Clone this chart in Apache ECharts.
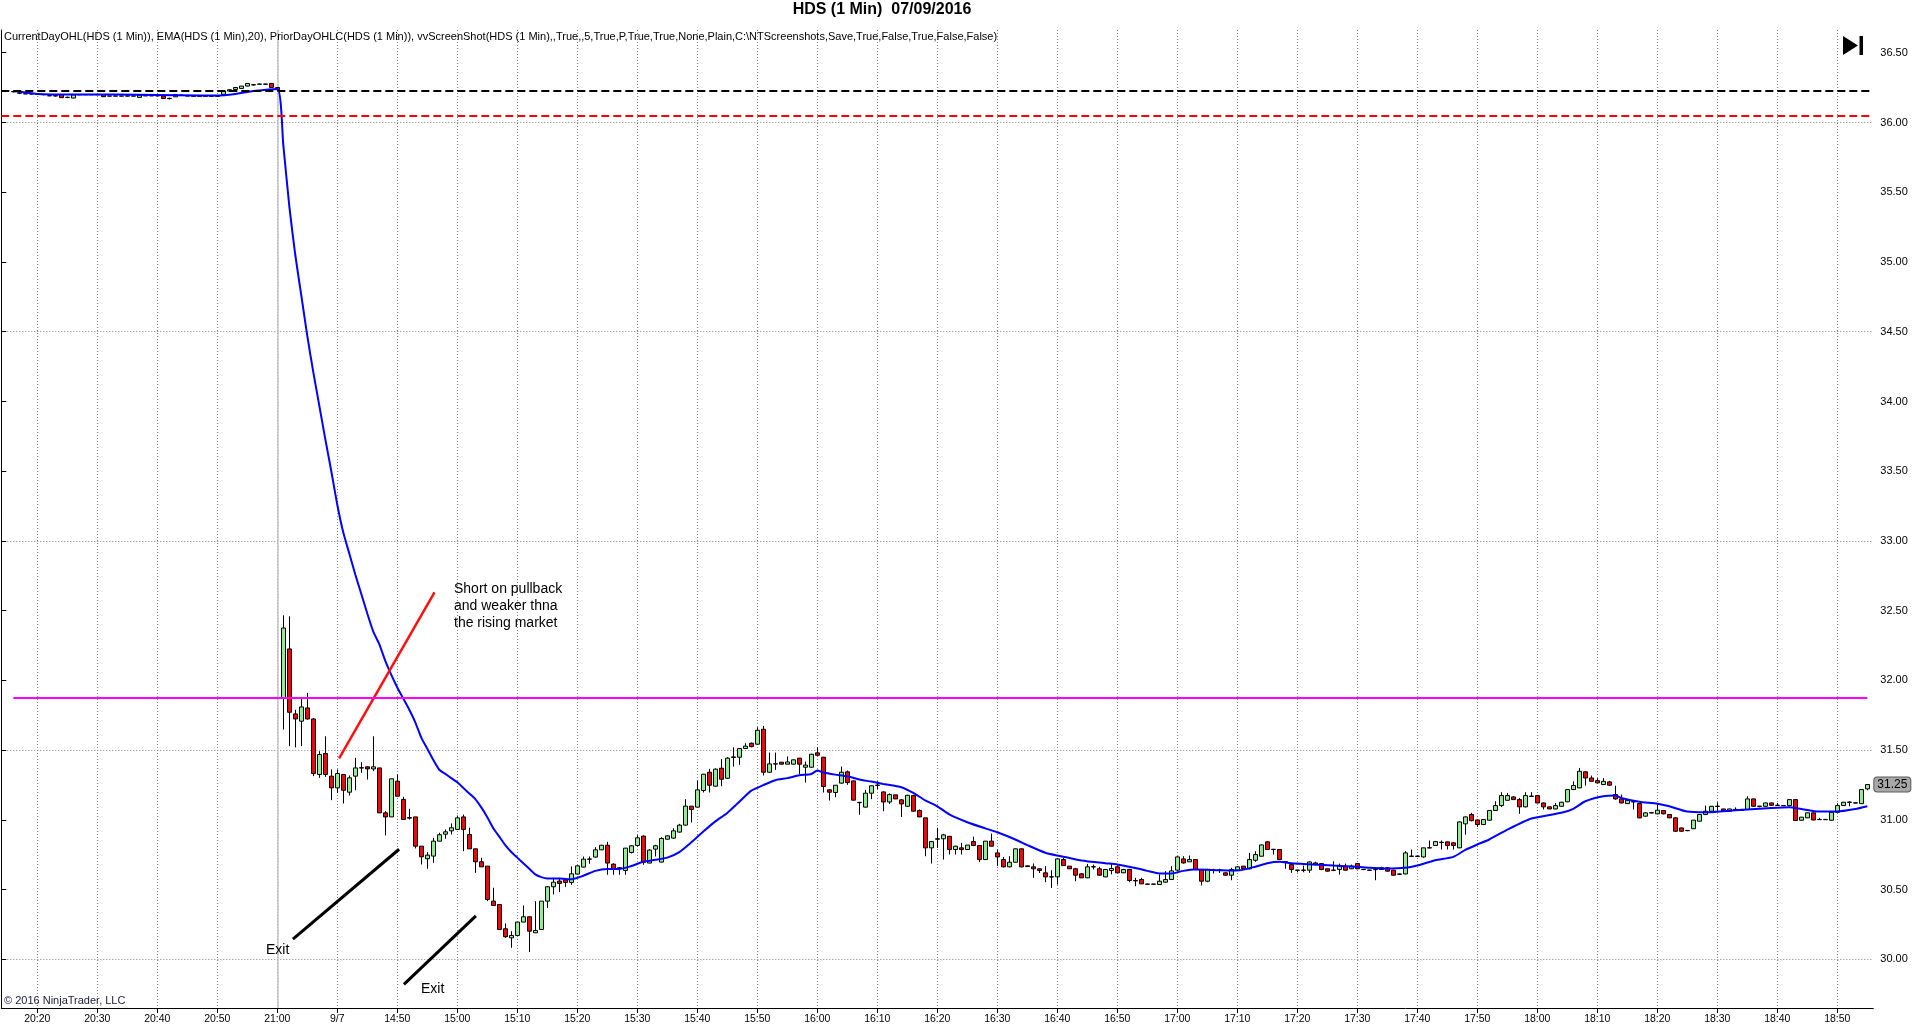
<!DOCTYPE html>
<html>
<head>
<meta charset="utf-8">
<title>HDS (1 Min) 07/09/2016</title>
<script src="https://cdn.jsdelivr.net/npm/echarts@6/dist/echarts.min.js"></script>
<style>
  html, body { margin: 0; padding: 0; background: #fff; }
  #chart { width: 1920px; height: 1034px; }
</style>
</head>
<body>
<div id="chart"></div>
<script>
// sessions on the time axis (one bar per minute), last category is an empty slot
var axisSessions = [['20:14', '21:00'], ['14:31', '18:56']];
var preStart = '20:16', preEnd = '21:00';
var dayStart = '14:31', dayEnd = '18:55';

// after-hours bars 20:16 .. 21:00  [open, close, low, high]
var preBars = [
  [36.222, 36.220, 36.215, 36.224], [36.212, 36.210, 36.203, 36.218], [36.206, 36.205, 36.204, 36.207],
  [36.206, 36.204, 36.199, 36.210], [36.205, 36.204, 36.203, 36.206], [36.201, 36.199, 36.195, 36.205],
  [36.192, 36.191, 36.190, 36.193], [36.192, 36.190, 36.186, 36.196], [36.200, 36.178, 36.177, 36.201],
  [36.181, 36.179, 36.174, 36.185], [36.175, 36.198, 36.174, 36.199], [36.200, 36.199, 36.197, 36.201],
  [36.200, 36.199, 36.197, 36.201], [36.200, 36.199, 36.197, 36.201], [36.200, 36.199, 36.197, 36.201],
  [36.200, 36.185, 36.184, 36.201], [36.190, 36.189, 36.188, 36.191], [36.190, 36.189, 36.188, 36.191],
  [36.190, 36.189, 36.188, 36.191], [36.191, 36.189, 36.185, 36.195], [36.190, 36.189, 36.188, 36.191],
  [36.180, 36.196, 36.179, 36.197], [36.192, 36.191, 36.190, 36.193], [36.192, 36.191, 36.190, 36.193],
  [36.192, 36.191, 36.190, 36.193], [36.190, 36.172, 36.171, 36.191], [36.173, 36.171, 36.165, 36.178],
  [36.184, 36.200, 36.183, 36.201], [36.196, 36.195, 36.194, 36.197], [36.191, 36.190, 36.189, 36.192],
  [36.190, 36.188, 36.184, 36.194], [36.190, 36.188, 36.184, 36.194], [36.190, 36.188, 36.184, 36.194],
  [36.190, 36.188, 36.184, 36.194], [36.190, 36.188, 36.184, 36.194], [36.201, 36.225, 36.190, 36.226],
  [36.225, 36.235, 36.224, 36.236], [36.237, 36.251, 36.236, 36.252], [36.244, 36.261, 36.243, 36.262],
  [36.261, 36.280, 36.260, 36.281], [36.271, 36.269, 36.265, 36.276], [36.276, 36.274, 36.273, 36.277],
  [36.276, 36.274, 36.273, 36.277], [36.280, 36.251, 36.250, 36.281], [36.251, 36.235, 36.234, 36.252]
];

// regular session bars 14:31 .. 18:55  [open, close, low, high]
var dayBars = [
  [31.875, 32.376, 31.648, 32.467], [32.226, 31.772, 31.529, 32.460], [31.760, 31.724, 31.520, 31.790],
  [31.708, 31.810, 31.530, 31.868], [31.803, 31.724, 31.720, 31.911], [31.724, 31.333, 31.314, 31.730],
  [31.326, 31.469, 31.302, 31.493], [31.476, 31.326, 31.309, 31.600], [31.314, 31.230, 31.142, 31.362],
  [31.230, 31.333, 31.194, 31.362], [31.326, 31.213, 31.118, 31.330], [31.199, 31.302, 31.175, 31.319],
  [31.314, 31.373, 31.213, 31.445], [31.375, 31.372, 31.338, 31.414], [31.381, 31.366, 31.290, 31.385],
  [31.366, 31.381, 31.350, 31.600], [31.373, 31.051, 31.051, 31.373], [31.051, 31.022, 30.889, 31.063],
  [31.022, 31.295, 31.022, 31.295], [31.278, 31.170, 31.170, 31.326], [31.147, 31.003, 31.003, 31.166],
  [31.017, 31.013, 31.003, 31.080], [31.022, 30.812, 30.796, 31.022], [30.812, 30.736, 30.681, 30.812],
  [30.722, 30.748, 30.650, 30.769], [30.741, 30.848, 30.693, 30.872], [30.848, 30.894, 30.848, 30.908],
  [30.898, 30.915, 30.865, 30.932], [30.922, 30.944, 30.896, 30.975], [30.932, 31.015, 30.932, 31.032],
  [31.022, 30.932, 30.776, 31.039], [30.896, 30.793, 30.793, 30.944], [30.793, 30.700, 30.621, 30.793],
  [30.700, 30.664, 30.664, 30.729], [30.669, 30.430, 30.418, 30.669], [30.418, 30.387, 30.387, 30.514],
  [30.394, 30.215, 30.215, 30.394], [30.220, 30.163, 30.155, 30.258], [30.155, 30.172, 30.084, 30.203],
  [30.172, 30.268, 30.170, 30.268], [30.268, 30.306, 30.268, 30.387], [30.306, 30.203, 30.053, 30.306],
  [30.191, 30.208, 30.190, 30.418], [30.215, 30.418, 30.215, 30.418], [30.418, 30.521, 30.370, 30.526],
  [30.521, 30.554, 30.466, 30.585], [30.562, 30.545, 30.483, 30.585], [30.571, 30.552, 30.520, 30.575],
  [30.552, 30.614, 30.535, 30.667], [30.612, 30.671, 30.610, 30.675], [30.662, 30.719, 30.660, 30.738],
  [30.720, 30.719, 30.686, 30.738], [30.734, 30.786, 30.730, 30.805], [30.786, 30.819, 30.786, 30.820],
  [30.819, 30.691, 30.607, 30.843], [30.683, 30.652, 30.607, 30.690], [30.657, 30.655, 30.607, 30.662],
  [30.638, 30.798, 30.607, 30.800], [30.767, 30.815, 30.760, 30.820], [30.817, 30.872, 30.810, 30.891],
  [30.884, 30.698, 30.679, 30.890], [30.691, 30.784, 30.690, 30.790], [30.791, 30.815, 30.738, 30.822],
  [30.698, 30.867, 30.695, 30.877], [30.862, 30.886, 30.860, 30.890], [30.870, 30.922, 30.865, 30.941],
  [30.913, 30.963, 30.910, 30.972], [30.963, 31.099, 30.960, 31.149], [31.099, 31.075, 30.982, 31.100],
  [31.092, 31.216, 31.090, 31.283], [31.211, 31.328, 31.197, 31.330], [31.342, 31.249, 31.197, 31.366],
  [31.242, 31.364, 31.240, 31.370], [31.371, 31.292, 31.242, 31.436], [31.299, 31.443, 31.295, 31.450],
  [31.452, 31.448, 31.383, 31.521], [31.450, 31.512, 31.395, 31.515], [31.512, 31.529, 31.510, 31.550],
  [31.550, 31.526, 31.520, 31.555], [31.543, 31.643, 31.540, 31.665], [31.650, 31.342, 31.319, 31.674],
  [31.342, 31.402, 31.340, 31.483], [31.403, 31.401, 31.359, 31.483], [31.414, 31.400, 31.398, 31.416],
  [31.400, 31.416, 31.398, 31.455], [31.400, 31.431, 31.398, 31.433], [31.443, 31.400, 31.330, 31.445],
  [31.378, 31.393, 31.268, 31.419], [31.378, 31.471, 31.375, 31.475], [31.481, 31.464, 31.460, 31.521],
  [31.450, 31.240, 31.197, 31.452], [31.216, 31.199, 31.139, 31.220], [31.197, 31.249, 31.163, 31.250],
  [31.264, 31.342, 31.260, 31.383], [31.345, 31.268, 31.252, 31.354], [31.280, 31.142, 31.140, 31.283],
  [31.126, 31.124, 31.037, 31.130], [31.092, 31.192, 31.090, 31.216], [31.192, 31.245, 31.149, 31.247],
  [31.250, 31.248, 31.220, 31.278], [31.201, 31.129, 31.063, 31.205], [31.129, 31.182, 31.115, 31.190],
  [31.180, 31.151, 31.150, 31.180], [31.144, 31.115, 31.022, 31.151], [31.098, 31.177, 31.095, 31.180],
  [31.175, 31.063, 31.060, 31.180], [31.068, 31.022, 31.020, 31.075], [31.015, 30.800, 30.740, 31.015],
  [30.800, 30.845, 30.688, 30.850], [30.865, 30.862, 30.800, 30.943], [30.865, 30.893, 30.716, 30.900],
  [30.883, 30.788, 30.752, 30.885], [30.788, 30.812, 30.752, 30.815], [30.800, 30.788, 30.752, 30.836],
  [30.788, 30.820, 30.785, 30.820], [30.845, 30.817, 30.812, 30.880], [30.817, 30.716, 30.698, 30.820],
  [30.716, 30.848, 30.714, 30.850], [30.848, 30.812, 30.810, 30.902], [30.764, 30.735, 30.669, 30.788],
  [30.716, 30.664, 30.660, 30.735], [30.664, 30.697, 30.660, 30.740], [30.697, 30.793, 30.695, 30.795],
  [30.793, 30.664, 30.660, 30.795], [30.671, 30.666, 30.665, 30.672], [30.664, 30.650, 30.585, 30.688],
  [30.650, 30.638, 30.620, 30.652], [30.621, 30.592, 30.554, 30.669], [30.593, 30.591, 30.513, 30.640],
  [30.592, 30.721, 30.537, 30.725], [30.716, 30.673, 30.670, 30.728], [30.669, 30.650, 30.648, 30.670],
  [30.650, 30.604, 30.561, 30.657], [30.614, 30.585, 30.584, 30.620], [30.585, 30.664, 30.583, 30.685],
  [30.665, 30.663, 30.645, 30.680], [30.650, 30.604, 30.600, 30.664], [30.592, 30.645, 30.590, 30.647],
  [30.638, 30.652, 30.610, 30.685], [30.664, 30.621, 30.620, 30.674], [30.621, 30.645, 30.620, 30.650],
  [30.645, 30.566, 30.554, 30.650], [30.566, 30.563, 30.525, 30.585], [30.573, 30.542, 30.540, 30.585],
  [30.541, 30.539, 30.538, 30.541], [30.541, 30.539, 30.538, 30.541], [30.537, 30.561, 30.535, 30.609],
  [30.554, 30.573, 30.550, 30.633], [30.573, 30.635, 30.570, 30.669], [30.640, 30.735, 30.630, 30.740],
  [30.721, 30.692, 30.687, 30.740], [30.700, 30.716, 30.700, 30.745], [30.716, 30.645, 30.640, 30.716],
  [30.645, 30.561, 30.530, 30.645], [30.561, 30.645, 30.554, 30.650], [30.640, 30.639, 30.616, 30.650],
  [30.641, 30.639, 30.620, 30.650], [30.621, 30.604, 30.600, 30.625], [30.604, 30.645, 30.568, 30.657],
  [30.640, 30.664, 30.635, 30.669], [30.669, 30.650, 30.645, 30.670], [30.650, 30.716, 30.645, 30.764],
  [30.711, 30.752, 30.700, 30.776], [30.740, 30.821, 30.738, 30.824], [30.843, 30.788, 30.786, 30.848],
  [30.790, 30.788, 30.752, 30.790], [30.788, 30.716, 30.714, 30.790], [30.701, 30.699, 30.650, 30.702],
  [30.680, 30.645, 30.621, 30.682], [30.641, 30.639, 30.625, 30.642], [30.641, 30.639, 30.625, 30.673],
  [30.640, 30.699, 30.621, 30.704], [30.692, 30.680, 30.675, 30.700], [30.687, 30.645, 30.640, 30.690],
  [30.650, 30.633, 30.630, 30.652], [30.641, 30.639, 30.633, 30.704], [30.645, 30.673, 30.609, 30.687],
  [30.669, 30.640, 30.638, 30.687], [30.650, 30.669, 30.648, 30.680], [30.687, 30.650, 30.648, 30.690],
  [30.646, 30.644, 30.643, 30.646], [30.641, 30.639, 30.638, 30.641], [30.646, 30.644, 30.568, 30.657],
  [30.657, 30.645, 30.644, 30.664], [30.657, 30.633, 30.630, 30.660], [30.640, 30.604, 30.600, 30.641],
  [30.613, 30.611, 30.608, 30.615], [30.613, 30.764, 30.610, 30.776], [30.741, 30.739, 30.738, 30.788],
  [30.741, 30.739, 30.735, 30.745], [30.735, 30.800, 30.730, 30.802], [30.801, 30.799, 30.798, 30.853],
  [30.817, 30.845, 30.815, 30.850], [30.840, 30.838, 30.788, 30.853], [30.843, 30.817, 30.788, 30.845],
  [30.836, 30.817, 30.788, 30.840], [30.800, 30.986, 30.798, 30.990], [30.972, 31.022, 30.895, 31.025],
  [31.039, 30.995, 30.990, 31.051], [31.000, 30.967, 30.950, 31.000], [30.967, 31.003, 30.965, 31.005],
  [30.998, 31.068, 30.995, 31.070], [31.068, 31.103, 31.065, 31.134], [31.103, 31.175, 31.093, 31.199],
  [31.141, 31.175, 31.140, 31.194], [31.165, 31.146, 31.145, 31.170], [31.146, 31.094, 31.044, 31.158],
  [31.094, 31.175, 31.090, 31.199], [31.171, 31.169, 31.165, 31.199], [31.175, 31.122, 31.120, 31.180],
  [31.122, 31.094, 31.075, 31.125], [31.094, 31.079, 31.078, 31.095], [31.079, 31.103, 31.077, 31.122],
  [31.098, 31.127, 31.095, 31.130], [31.130, 31.218, 31.128, 31.220], [31.218, 31.247, 31.215, 31.277],
  [31.230, 31.349, 31.228, 31.373], [31.345, 31.301, 31.246, 31.350], [31.301, 31.277, 31.275, 31.318],
  [31.282, 31.266, 31.262, 31.300], [31.254, 31.277, 31.250, 31.300], [31.273, 31.249, 31.247, 31.280],
  [31.182, 31.151, 31.145, 31.246], [31.151, 31.122, 31.120, 31.182], [31.117, 31.141, 31.115, 31.145],
  [31.131, 31.129, 31.075, 31.133], [31.118, 31.015, 31.013, 31.120], [31.027, 31.051, 31.025, 31.055],
  [31.052, 31.050, 31.049, 31.053], [31.044, 31.070, 31.040, 31.110], [31.068, 31.044, 31.040, 31.070],
  [31.039, 31.015, 31.013, 31.040], [31.015, 30.919, 30.915, 31.017], [30.943, 30.919, 30.917, 30.945],
  [30.925, 30.923, 30.920, 30.926], [30.937, 30.999, 30.935, 31.000], [30.991, 31.039, 30.990, 31.040],
  [31.039, 31.063, 31.035, 31.103], [31.063, 31.098, 31.060, 31.100], [31.099, 31.097, 31.067, 31.127],
  [31.079, 31.063, 31.060, 31.080], [31.063, 31.079, 31.060, 31.080], [31.076, 31.074, 31.072, 31.090],
  [31.071, 31.069, 31.068, 31.080], [31.075, 31.151, 31.072, 31.170], [31.151, 31.098, 31.096, 31.153],
  [31.099, 31.097, 31.090, 31.100], [31.098, 31.122, 31.095, 31.125], [31.122, 31.105, 31.100, 31.125],
  [31.106, 31.104, 31.100, 31.122], [31.104, 31.102, 31.101, 31.105], [31.103, 31.146, 31.100, 31.148],
  [31.146, 30.996, 30.993, 31.148], [30.998, 31.020, 30.995, 31.022], [31.015, 31.051, 31.013, 31.053],
  [31.051, 31.000, 30.998, 31.053], [31.004, 31.002, 31.000, 31.015], [31.004, 31.002, 31.001, 31.005],
  [30.998, 31.055, 30.995, 31.057], [31.055, 31.103, 31.053, 31.120], [31.103, 31.127, 31.100, 31.130],
  [31.128, 31.126, 31.098, 31.134], [31.123, 31.121, 31.120, 31.124], [31.117, 31.218, 31.115, 31.220],
  [31.223, 31.254, 31.213, 31.256]
];

// EMA(20): [time, value] (after-hours) and [bar offset from 14:31, value]
var emaPre = [
  ['20:16', 36.225], ['20:20', 36.205], ['20:26', 36.200], ['20:33', 36.200], ['20:40', 36.197],
  ['20:47', 36.194], ['20:50', 36.194], ['20:53', 36.205], ['20:56', 36.225], ['21:00', 36.240]
];
var emaDay = [
  [0, 35.84], [1, 35.40], [2, 35.05], [3, 34.76], [4, 34.47], [5, 34.21], [6, 33.97], [7, 33.73],
  [8, 33.50], [9, 33.26], [10, 33.06], [11, 32.91], [12, 32.76], [13, 32.62], [14, 32.48], [15, 32.35],
  [16, 32.26], [17, 32.14], [18, 32.04], [19, 31.95], [20, 31.87], [21, 31.79], [22, 31.70], [23, 31.59],
  [24, 31.51], [25, 31.43], [26, 31.36], [27, 31.33], [28, 31.30], [29, 31.27], [30, 31.23], [31, 31.19],
  [32, 31.15], [33, 31.09], [34, 31.02], [35, 30.94], [36, 30.88], [37, 30.82], [38, 30.77], [39, 30.73],
  [40, 30.69], [41, 30.65], [42, 30.61], [43, 30.59], [44, 30.58], [46, 30.58], [48, 30.575], [50, 30.60],
  [52, 30.635], [54, 30.648], [56, 30.648], [58, 30.67], [60, 30.70], [62, 30.714], [64, 30.73], [66, 30.77],
  [68, 30.84], [70, 30.917], [72, 30.99], [74, 31.05], [76, 31.13], [78, 31.21], [80, 31.25], [82, 31.285],
  [84, 31.30], [86, 31.32], [88, 31.33], [89, 31.355], [90, 31.34], [92, 31.325], [94, 31.313], [96, 31.29],
  [98, 31.275], [100, 31.258], [103, 31.235], [105, 31.194], [107, 31.14], [109, 31.098], [111, 31.04],
  [114, 30.984], [117, 30.94], [119, 30.912], [122, 30.86], [124, 30.82], [127, 30.765], [129, 30.745],
  [131, 30.728], [133, 30.71], [137, 30.69], [139, 30.681], [142, 30.655], [144, 30.635], [146, 30.616],
  [148, 30.616], [150, 30.635], [152, 30.645], [156, 30.64], [159, 30.637], [162, 30.665], [164, 30.69],
  [166, 30.70], [168, 30.69], [170, 30.685], [175, 30.673], [179, 30.664], [181, 30.657], [184, 30.652],
  [187, 30.657], [189, 30.673], [192, 30.711], [195, 30.735], [197, 30.785], [199, 30.824], [201, 30.86],
  [204, 30.93], [208, 31.01], [213, 31.051], [215, 31.08], [217, 31.134], [220, 31.17], [222, 31.175],
  [223, 31.158], [226, 31.13], [229, 31.117], [231, 31.098], [234, 31.06], [237, 31.055], [240, 31.063],
  [244, 31.075], [248, 31.086], [251, 31.091], [253, 31.078], [256, 31.06], [259, 31.06], [262, 31.078],
  [264, 31.098]
];

// level lines
var priorDayClose = 36.235;
var priorDayLow = 36.05;
var currentDayOpen = 31.875;

// y axis
var priceTicks = [30, 30.5, 31, 31.5, 32, 32.5, 33, 33.5, 34, 34.5, 35, 35.5, 36, 36.5];
var priceGridLines = [30, 31.5, 33, 34.5, 36];
var priceMin = 29.652, priceMax = 36.663;

// hand-drawn annotation lines: [bar position, price]
var shortLine = [[56.3, 31.442], [72.2, 32.631]];
var exitLine1 = [[48.6, 30.145], [66.3, 30.79]];
var exitLine2 = [[67.1, 29.821], [79.1, 30.312]];

function minuteRange(from, to) {
    var out = [];
    var a = from.split(':'), b = to.split(':');
    var t = +a[0] * 60 + +a[1], end = +b[0] * 60 + +b[1];
    for (; t <= end; t++) {
        var h = Math.floor(t / 60), m = t % 60;
        out.push((h < 10 ? '0' : '') + h + ':' + (m < 10 ? '0' : '') + m);
    }
    return out;
}

var categories = [];
axisSessions.forEach(function (s) { categories = categories.concat(minuteRange(s[0], s[1])); });
var preTimes = minuteRange(preStart, preEnd);
var dayTimes = minuteRange(dayStart, dayEnd);

var candleData = preTimes.map(function (t, i) { return [t].concat(preBars[i]); })
    .concat(dayTimes.map(function (t, i) { return [t].concat(dayBars[i]); }));

var emaData = emaPre.concat(emaDay.map(function (p) { return [dayTimes[p[0]], p[1]]; }));
var lastClose = dayBars[dayBars.length - 1][1];

var FONT = '"Liberation Sans", Arial, sans-serif';
var showTick = function (index) { return index % 10 === 6; };

var chart = echarts.init(document.getElementById('chart'));
var option = {
    animation: false,
    backgroundColor: '#ffffff',
    grid: { left: 1.3, right: 46.7, top: 30, bottom: 26, outerBoundsMode: 'none', containLabel: false },
    xAxis: [
        {
            type: 'category',
            data: categories,
            boundaryGap: false,
            axisLine: { show: true, lineStyle: { color: '#000', width: 1 } },
            axisTick: { show: true, interval: showTick, length: 5, lineStyle: { color: '#000' } },
            axisLabel: {
                interval: showTick,
                margin: 6,
                color: '#000',
                fontFamily: FONT,
                fontSize: 10.5,
                formatter: function (v) { return v === '14:40' ? '9/7' : v; }
            },
            splitLine: { show: true, interval: showTick, lineStyle: { color: '#808080', width: 1, type: [1, 2] } }
        },
        {
            type: 'value', min: 0, max: categories.length - 1, show: false,
            splitLine: { show: false }, axisLine: { show: false }, axisTick: { show: false }, axisLabel: { show: false }
        }
    ],
    yAxis: {
        type: 'value',
        position: 'right',
        min: priceMin,
        max: priceMax,
        axisLine: { show: true, lineStyle: { color: '#000', width: 1 } },
        axisTick: { show: true, length: 5, customValues: priceTicks, lineStyle: { color: '#000' } },
        axisLabel: {
            customValues: priceTicks,
            margin: 7,
            color: '#000',
            fontFamily: FONT,
            fontSize: 11,
            formatter: function (v) { return (+v).toFixed(2); }
        },
        splitLine: { show: false },
        axisPointer: {
            show: true,
            status: 'show',
            value: lastClose,
            type: 'line',
            lineStyle: { opacity: 0 },
            triggerTooltip: false,
            label: {
                show: true,
                margin: 1,
                backgroundColor: '#a8a8a8',
                borderColor: '#5a5a5a',
                borderWidth: 1,
                color: '#000',
                fontFamily: FONT,
                fontSize: 12,
                padding: [1, 3],
                formatter: function (p) { return (+p.value).toFixed(2); }
            }
        }
    },
    graphic: [
        { type: 'text', x: 882, y: 10, z: 10, style: { text: 'HDS (1 Min)  07/09/2016', font: 'bold 16px ' + FONT, fill: '#000', align: 'center', verticalAlign: 'middle' } },
        { type: 'text', x: 4, y: 37, z: 10, style: { text: 'CurrentDayOHL(HDS (1 Min)), EMA(HDS (1 Min),20), PriorDayOHLC(HDS (1 Min)), vvScreenShot(HDS (1 Min),,True,,5,True,P,True,True,None,Plain,C:\\NTScreenshots,Save,True,False,True,False,False)', font: '11px ' + FONT, fill: '#000', verticalAlign: 'middle' } },
        { type: 'text', x: 4, y: 1001, z: 10, style: { text: '\u00a9 2016 NinjaTrader, LLC', font: '11px ' + FONT, fill: '#1a1a40', verticalAlign: 'middle' } },
        { type: 'text', x: 454, y: 581, z: 10, style: { text: 'Short on pullback\nand weaker thna\nthe rising market', font: '14px ' + FONT, fill: '#000', lineHeight: 16.7, verticalAlign: 'top' } },
        { type: 'text', x: 266, y: 943, z: 10, style: { text: 'Exit', font: '14px ' + FONT, fill: '#000', verticalAlign: 'top' } },
        { type: 'text', x: 421, y: 982.5, z: 10, style: { text: 'Exit', font: '14px ' + FONT, fill: '#000', verticalAlign: 'top' } },
        { type: 'polygon', z: 10, shape: { points: [[1843, 36], [1843, 55], [1858, 45.5]] }, style: { fill: '#000' } },
        { type: 'rect', z: 10, shape: { x: 1859.5, y: 36, width: 3.5, height: 19 }, style: { fill: '#000' } }
    ],
    series: [
        {
            // background price grid lines (every 1.50) and session divider
            type: 'line',
            data: [],
            z: 0,
            markLine: {
                silent: true,
                z: 0,
                symbol: 'none',
                label: { show: false },
                data: priceGridLines.map(function (v) {
                    return { yAxis: v, lineStyle: { color: '#808080', width: 1, type: [1, 2] } };
                }).concat([{ xAxis: '21:00', lineStyle: { color: '#c4c4c4', width: 1.5, type: 'solid' } }])
            }
        },
        {
            name: 'HDS',
            type: 'candlestick',
            data: candleData,
            encode: { x: 0, y: [1, 2, 3, 4] },
            barWidth: 4,
            itemStyle: {
                color: '#90ee90',
                color0: '#ff0000',
                borderColor: '#000000',
                borderColor0: '#000000',
                borderColorDoji: '#000000',
                borderWidth: 1
            },
            markLine: {
                silent: true,
                symbol: 'none',
                label: { show: false },
                data: [
                    { yAxis: priorDayClose, lineStyle: { color: '#000000', width: 2, type: [8, 4] } },
                    { yAxis: priorDayLow, lineStyle: { color: '#ff0000', width: 2, type: [8, 4] } },
                    [
                        { coord: [preStart, currentDayOpen], lineStyle: { color: '#ff00ff', width: 2, type: 'solid' } },
                        { coord: [dayEnd, currentDayOpen] }
                    ]
                ]
            }
        },
        {
            name: 'EMA(20)',
            type: 'line',
            data: emaData,
            showSymbol: false,
            smooth: 0.2,
            lineStyle: { color: '#0000ff', width: 2 },
            z: 3
        },
        {
            type: 'line', xAxisIndex: 1, data: shortLine, showSymbol: false, z: 4,
            lineStyle: { color: '#ff1010', width: 2.5 }
        },
        {
            type: 'line', xAxisIndex: 1, data: exitLine1, showSymbol: false, z: 4,
            lineStyle: { color: '#000000', width: 3 }
        },
        {
            type: 'line', xAxisIndex: 1, data: exitLine2, showSymbol: false, z: 4,
            lineStyle: { color: '#000000', width: 3 }
        }
    ]
};
chart.setOption(option);
</script>
</body>
</html>
